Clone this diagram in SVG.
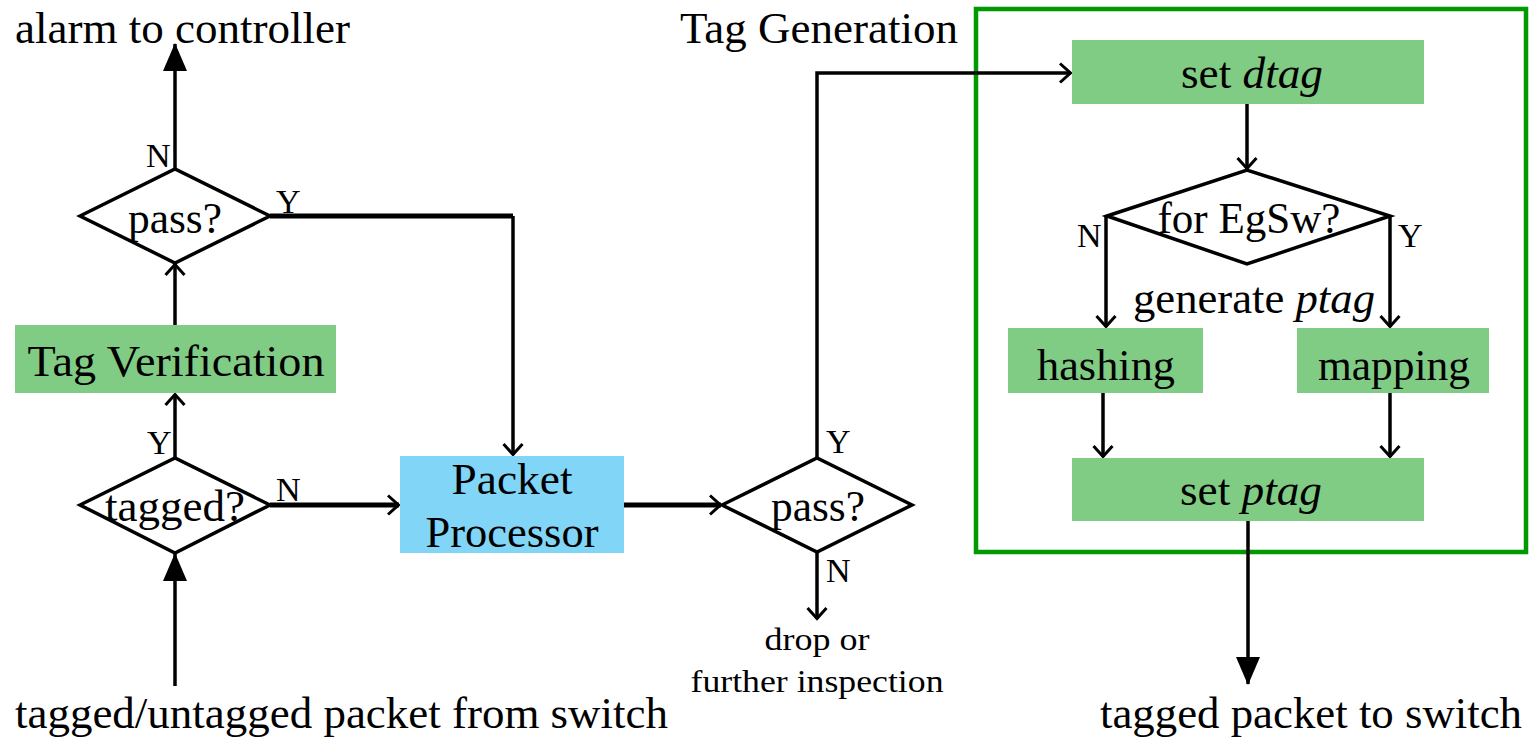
<svg xmlns="http://www.w3.org/2000/svg" width="1530" height="741" viewBox="0 0 1530 741">
<style>
text{font-family:"Liberation Serif","Times New Roman",serif;fill:#000}
.t{font-size:44px}
.s{font-size:31px}
.l{font-size:34px}
.c{text-anchor:middle}
.g{fill:#80cc85}
.b{fill:#81d5f7}
.d{fill:#fff;stroke:#000;stroke-width:3.5}
.e{fill:none;stroke:#000;stroke-width:3.5}
.w{stroke-width:5}
</style>
<defs>
<marker id="o" viewBox="0 0 14 22" refX="12.5" refY="11" markerWidth="14" markerHeight="22" markerUnits="userSpaceOnUse" orient="auto">
<path d="M1.5,1.5 L12,11 L1.5,20.5" fill="none" stroke="#000" stroke-width="3"/>
</marker>
<marker id="f" viewBox="0 0 28 24" refX="27" refY="12" markerWidth="28" markerHeight="24" markerUnits="userSpaceOnUse" orient="auto">
<path d="M0,0 L28,12 L0,24 Z" fill="#000"/>
</marker>
</defs>
<rect x="976" y="9" width="550" height="543" fill="none" stroke="#009900" stroke-width="4.5"/>
<g id="connectors">
<path class="e" d="M175,169 V44" marker-end="url(#f)"/>
<path class="e w" d="M270,216 H513"/>
<path class="e" d="M513,216 V455" marker-end="url(#o)"/>
<path class="e" d="M175,325 V264" marker-end="url(#o)"/>
<path class="e" d="M175,458 V394" marker-end="url(#o)"/>
<path class="e" d="M175,686 V554" marker-end="url(#f)"/>
<path class="e w" d="M270,505 H399" marker-end="url(#o)"/>
<path class="e w" d="M624,505 H721" marker-end="url(#o)"/>
<path class="e" d="M817,552 V619" marker-end="url(#o)"/>
<path class="e" d="M817,458 V73 H1071" marker-end="url(#o)"/>
<path class="e" d="M1247,104 V169" marker-end="url(#o)"/>
<path class="e" d="M1106,216 V327" marker-end="url(#o)"/>
<path class="e" d="M1390,216 V327" marker-end="url(#o)"/>
<path class="e" d="M1103,393 V457" marker-end="url(#o)"/>
<path class="e" d="M1390,393 V457" marker-end="url(#o)"/>
<path class="e" d="M1248,521 V684" marker-end="url(#f)"/>
</g>
<g id="alarm"><text class="t" x="15" y="43" textLength="335" lengthAdjust="spacingAndGlyphs">alarm to controller</text></g>
<g id="taggen-label"><text class="t" x="680" y="43" textLength="278" lengthAdjust="spacingAndGlyphs">Tag Generation</text></g>
<g id="pass1">
<polygon class="d" points="80,216 175,169 270,216 175,263"/>
<text class="t c" x="175" y="233" textLength="94" lengthAdjust="spacingAndGlyphs">pass?</text>
<text class="l" x="146" y="167">N</text>
<text class="l" x="276" y="213">Y</text>
</g>
<g id="tagver">
<rect class="g" x="15" y="325" width="321" height="68"/>
<text class="t c" x="176" y="376" textLength="297" lengthAdjust="spacingAndGlyphs">Tag Verification</text>
</g>
<g id="tagged">
<polygon class="d" points="80,505 175,458 270,505 175,553"/>
<text class="t c" x="175" y="521" textLength="140" lengthAdjust="spacingAndGlyphs">tagged?</text>
<text class="l" x="147" y="454">Y</text>
<text class="l" x="276" y="501">N</text>
</g>
<g id="pp">
<rect class="b" x="400" y="456" width="224" height="97"/>
<text class="t c" x="512" y="494" textLength="121" lengthAdjust="spacingAndGlyphs">Packet</text>
<text class="t c" x="512" y="547" textLength="173" lengthAdjust="spacingAndGlyphs">Processor</text>
</g>
<g id="pass2">
<polygon class="d" points="722,505 817,458 912,505 817,552"/>
<text class="t c" x="818" y="521" textLength="94" lengthAdjust="spacingAndGlyphs">pass?</text>
<text class="l" x="826" y="453">Y</text>
<text class="l" x="826" y="582">N</text>
</g>
<g id="drop">
<text class="s c" x="817" y="650" textLength="105" lengthAdjust="spacingAndGlyphs">drop or</text>
<text class="s c" x="817" y="692" textLength="253" lengthAdjust="spacingAndGlyphs">further inspection</text>
</g>
<g id="setdtag">
<rect class="g" x="1072" y="40" width="352" height="64"/>
<text class="t c" x="1252" y="88" textLength="142" lengthAdjust="spacingAndGlyphs">set <tspan font-style="italic">dtag</tspan></text>
</g>
<g id="egsw">
<polygon class="d" points="1107,216 1247,170 1390,216 1247,264"/>
<text class="t c" x="1249" y="233" textLength="183" lengthAdjust="spacingAndGlyphs">for EgSw?</text>
<text class="l" x="1077" y="247">N</text>
<text class="l" x="1398" y="247">Y</text>
</g>
<g id="genptag"><text class="t" x="1133" y="313" textLength="242" lengthAdjust="spacingAndGlyphs">generate <tspan font-style="italic">ptag</tspan></text></g>
<g id="hashing">
<rect class="g" x="1008" y="328" width="195" height="65"/>
<text class="t c" x="1106" y="380" textLength="138" lengthAdjust="spacingAndGlyphs">hashing</text>
</g>
<g id="mapping">
<rect class="g" x="1297" y="328" width="192" height="65"/>
<text class="t c" x="1394" y="380" textLength="152" lengthAdjust="spacingAndGlyphs">mapping</text>
</g>
<g id="setptag">
<rect class="g" x="1072" y="458" width="352" height="63"/>
<text class="t c" x="1251" y="505" textLength="142" lengthAdjust="spacingAndGlyphs">set <tspan font-style="italic">ptag</tspan></text>
</g>
<g id="input"><text class="t" x="15" y="728" textLength="653" lengthAdjust="spacingAndGlyphs">tagged/untagged packet from switch</text></g>
<g id="output"><text class="t" x="1100" y="728" textLength="422" lengthAdjust="spacingAndGlyphs">tagged packet to switch</text></g>
</svg>
